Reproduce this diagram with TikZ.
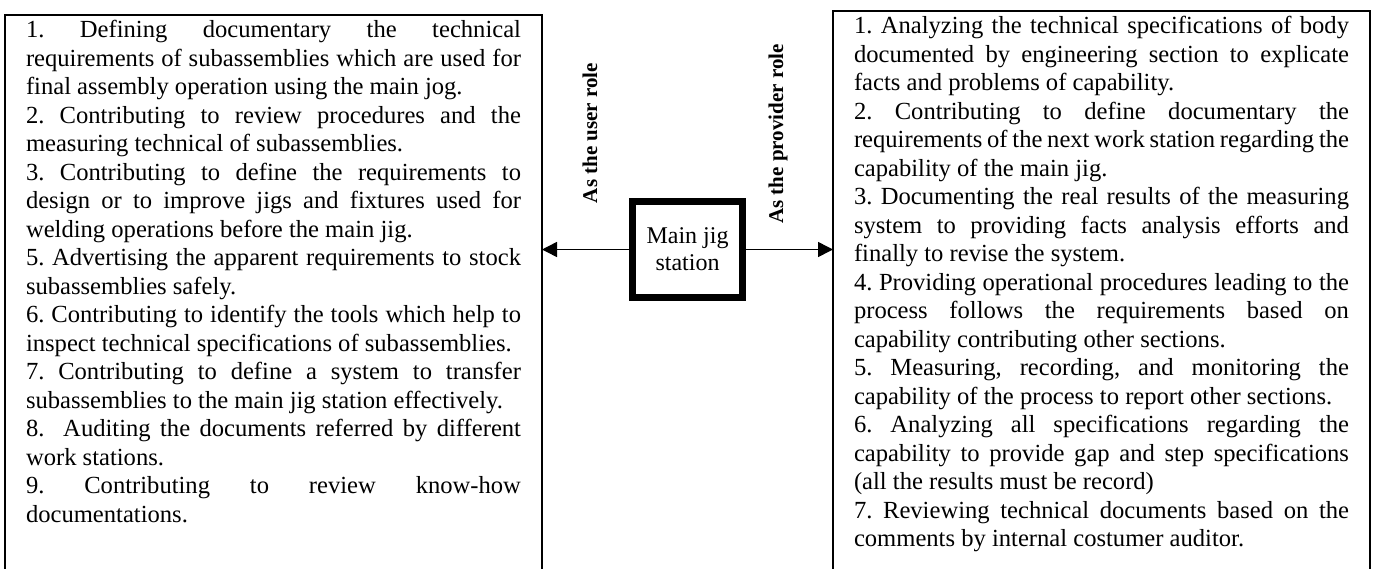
\documentclass[tikz,border=0pt]{standalone}
\usepackage{fontspec}
\setmainfont{Liberation Serif}
\usepackage{tikz}
\usetikzlibrary{positioning,arrows.meta}

\tolerance=10000
\hbadness=10000
\hyphenpenalty=10000
\frenchspacing

\begin{document}
\begin{tikzpicture}[x=1pt,y=-1pt,
  listbox/.style={draw, line width=1.6pt, anchor=north west, outer sep=0pt,
    inner xsep=21pt, inner ysep=5.5pt, text width=495pt, align=justify,
    text height=17pt, text depth=600pt,
    font=\fontsize{24.6}{28.5}\selectfont},
  rolelabel/.style={rotate=90, font=\bfseries\fontsize{21}{24}\selectfont},
  station/.style={draw, line width=7pt, minimum width=110pt, minimum height=96pt,
    align=center, font=\fontsize{24}{27}\selectfont},
  link/.style={line width=1.5pt, -{Triangle[length=15pt,width=15pt]}}]

  \useasboundingbox (0,0) rectangle (1380,568);

  \node[listbox] (userlist) at (5,15) {%
    1. Defining documentary the technical\linebreak
    requirements of subassemblies which are used for\linebreak
    final assembly operation using the main jog.\par
    2. Contributing to review procedures and the\linebreak
    measuring technical of subassemblies.\par
    3. Contributing to define the requirements to\linebreak
    design or to improve jigs and fixtures used for\linebreak
    welding operations before the main jig.\par
    5. Advertising the apparent requirements to stock\linebreak
    subassemblies safely.\par
    6. Contributing to identify the tools which help to\linebreak
    inspect technical specifications of subassemblies.\par
    7. Contributing to define a system to transfer\linebreak
    subassemblies to the main jig station effectively.\par
    8.\ \ Auditing the documents referred by different\linebreak
    work stations.\par
    9. Contributing to review know-how\linebreak
    documentations.};

  \node[listbox] (providerlist) at (833,11) {%
    1. Analyzing the technical specifications of body\linebreak
    documented by engineering section to explicate\linebreak
    facts and problems of capability.\par
    2. Contributing to define documentary the\linebreak
    requirements of the next work station regarding the\linebreak
    capability of the main jig.\par
    3. Documenting the real results of the measuring\linebreak
    system to providing facts analysis efforts and\linebreak
    finally to revise the system.\par
    4. Providing operational procedures leading to the\linebreak
    process follows the requirements based on\linebreak
    capability contributing other sections.\par
    5. Measuring, recording, and monitoring the\linebreak
    capability of the process to report other sections.\par
    6. Analyzing all specifications regarding the\linebreak
    capability to provide gap and step specifications\linebreak
    (all the results must be record)\par
    7. Reviewing technical documents based on the\linebreak
    comments by internal costumer auditor.};

  \node[station] (jig) at (687.5,249.5) {Main jig\\station};

  \node[rolelabel] (userrole) at (590,133) {As the user role};
  \node[rolelabel] (providerrole) at (778,134) {As the provider role};

  \draw[link] (jig.west) -- (jig.west -| userlist.east);
  \draw[link] (jig.east) -- (jig.east -| providerlist.west);
\end{tikzpicture}
\end{document}
